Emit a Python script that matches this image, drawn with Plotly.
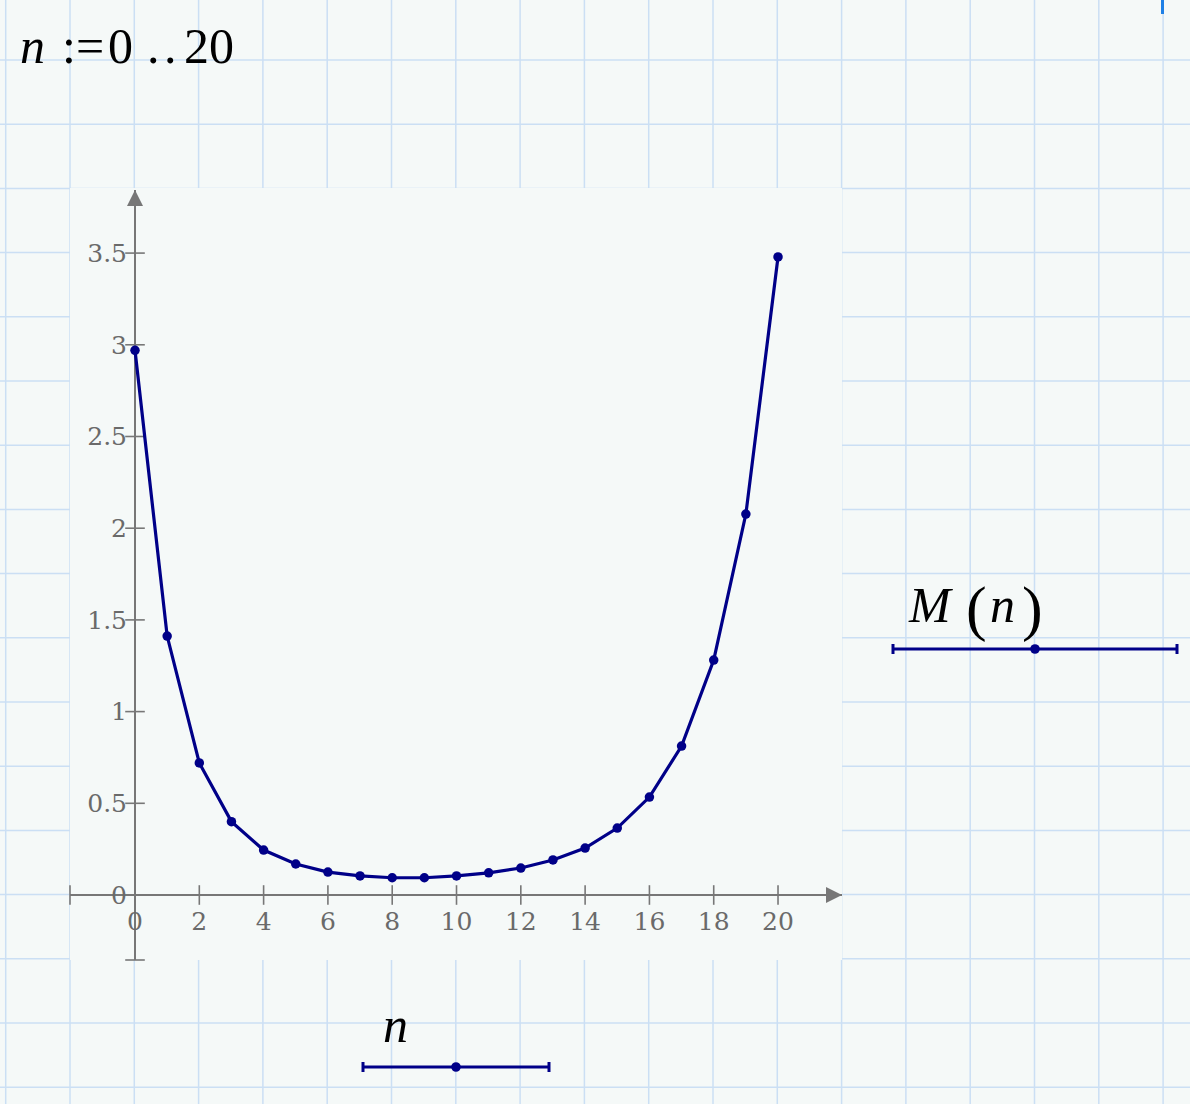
import plotly.graph_objects as go

# ---------------- data ----------------
n_values = list(range(21))
M_values = [2.97, 1.412, 0.72, 0.40, 0.245, 0.169, 0.125, 0.104, 0.094, 0.094,
            0.104, 0.121, 0.147, 0.191, 0.256, 0.365, 0.534, 0.812, 1.281, 2.077, 3.479]
x_tick_values = [0, 2, 4, 6, 8, 10, 12, 14, 16, 18, 20]
x_tick_labels = ["0", "2", "4", "6", "8", "10", "12", "14", "16", "18", "20"]
y_tick_values = [0, 0.5, 1, 1.5, 2, 2.5, 3, 3.5]
y_tick_labels = ["0", "0.5", "1", "1.5", "2", "2.5", "3", "3.5"]
x_range = [-2.022, 21.99]
y_range = [-0.3544, 3.844]

# ---------------- style ----------------
W, H = 1190, 1104
BG = "#f5f9f8"
GRID = "#cbdff4"
AX = "#777777"
LBL = "#6a6a6a"
NAVY = "#000088"
SERIF = "Liberation Serif, DejaVu Serif, serif"
TICKFONT = "DejaVu Serif, serif"


def px(x):
    return x / W


def py(y):
    return 1 - y / H


shapes = []
# worksheet grid
k = -1
while 70 + 64.3 * k < W:
    xv = 70 + 64.3 * k
    shapes.append(dict(type="line", xref="paper", yref="paper", x0=px(xv), x1=px(xv),
                       y0=0, y1=1, line=dict(color=GRID, width=1.5), layer="below"))
    k += 1
k = 0
while 60 + 64.2 * k < H:
    yv = 60 + 64.2 * k
    shapes.append(dict(type="line", xref="paper", yref="paper", x0=0, x1=1,
                       y0=py(yv), y1=py(yv), line=dict(color=GRID, width=1.5), layer="below"))
    k += 1
# plot region background covers grid
shapes.append(dict(type="rect", xref="paper", yref="paper", x0=px(70), x1=px(842),
                   y0=py(960), y1=py(188), fillcolor=BG, line=dict(width=0), layer="below"))
# cursor at top right
shapes.append(dict(type="line", xref="paper", yref="paper", x0=px(1162.5), x1=px(1162.5),
                   y0=py(0), y1=py(14), line=dict(color="#1f80e6", width=3)))


def legend_bar(x0, x1, xm, y):
    out = [dict(type="line", xref="paper", yref="paper", x0=px(x0), x1=px(x1), y0=py(y), y1=py(y),
                line=dict(color=NAVY, width=3.2)),
           dict(type="line", xref="paper", yref="paper", x0=px(x0), x1=px(x0), y0=py(y - 5), y1=py(y + 5),
                line=dict(color=NAVY, width=3)),
           dict(type="line", xref="paper", yref="paper", x0=px(x1), x1=px(x1), y0=py(y - 5), y1=py(y + 5),
                line=dict(color=NAVY, width=3)),
           dict(type="circle", xref="paper", yref="paper", x0=px(xm - 4.8), x1=px(xm + 4.8),
                y0=py(y + 4.8), y1=py(y - 4.8), fillcolor=NAVY, line=dict(width=0))]
    return out


shapes += legend_bar(893, 1177, 1035, 649)
shapes += legend_bar(363, 549, 456, 1067)

annotations = []


def txt(text, x, y, size=50, xanchor="left"):
    annotations.append(dict(text=text, xref="paper", yref="paper", x=px(x), y=py(y),
                            xanchor=xanchor, yanchor="middle", showarrow=False,
                            font=dict(family=SERIF, size=size, color="#000000")))


# range definition  n := 0 .. 20
txt("<i>n</i>", 18, 46)
txt(":=", 60, 46)
txt("0", 106, 46)
txt(".", 145, 46)
txt(".", 162, 46)
txt("20", 182, 46)
# legend labels
txt("<i>M</i>", 906, 605)
txt("(", 964, 608, size=62)
txt("<i>n</i>", 988, 605)
txt(")", 1020, 608, size=62)
txt("<i>n</i>", 381, 1025)

fig = go.Figure()

# axis tick marks (crossing the axes) and end caps
fig.add_trace(go.Scatter(x=x_tick_values + [x_range[0]], y=[0] * (len(x_tick_values) + 1),
                         mode="markers", cliponaxis=False, hoverinfo="skip", showlegend=False,
                         marker=dict(symbol="line-ns", size=14, color=AX, line=dict(width=1.6, color=AX))))
fig.add_trace(go.Scatter(x=[0] * (len(y_tick_values) + 1), y=y_tick_values + [y_range[0]],
                         mode="markers", cliponaxis=False, hoverinfo="skip", showlegend=False,
                         marker=dict(symbol="line-ew", size=14, color=AX, line=dict(width=1.6, color=AX))))
# arrow heads
fig.add_trace(go.Scatter(x=[0], y=[y_range[1]], mode="markers", cliponaxis=False, hoverinfo="skip",
                         showlegend=False, marker=dict(symbol="arrow-up", size=16, color=AX, line=dict(width=0))))
fig.add_trace(go.Scatter(x=[x_range[1]], y=[0], mode="markers", cliponaxis=False, hoverinfo="skip",
                         showlegend=False, marker=dict(symbol="arrow-right", size=16, color=AX, line=dict(width=0))))

# data
fig.add_trace(go.Scatter(x=n_values, y=M_values, mode="lines+markers", name="M(n)", showlegend=False,
                         cliponaxis=False,
                         line=dict(color=NAVY, width=3.2), marker=dict(size=9.5, color=NAVY)))

fig.update_layout(
    width=W, height=H, margin=dict(l=0, r=0, t=0, b=0),
    paper_bgcolor=BG, plot_bgcolor="rgba(0,0,0,0)",
    shapes=shapes, annotations=annotations, showlegend=False,
    xaxis=dict(range=x_range, domain=[px(70), px(842)], anchor="free", position=py(895),
               showgrid=False, zeroline=True, zerolinecolor=AX, zerolinewidth=2, showline=False,
               ticks="", tickvals=x_tick_values, ticktext=x_tick_labels, ticklabelstandoff=9,
               tickfont=dict(family=TICKFONT, size=25, color=LBL), fixedrange=True),
    yaxis=dict(range=y_range, domain=[py(960), py(190)], anchor="free", position=px(135),
               showgrid=False, zeroline=True, zerolinecolor=AX, zerolinewidth=2, showline=False,
               ticks="", tickvals=y_tick_values, ticktext=y_tick_labels, ticklabelstandoff=8,
               tickfont=dict(family=TICKFONT, size=25, color=LBL), fixedrange=True),
)

fig.write_html("out.html", config={"displayModeBar": False},
               post_script="document.body.style.margin='0';document.body.style.background='%s';" % BG)
